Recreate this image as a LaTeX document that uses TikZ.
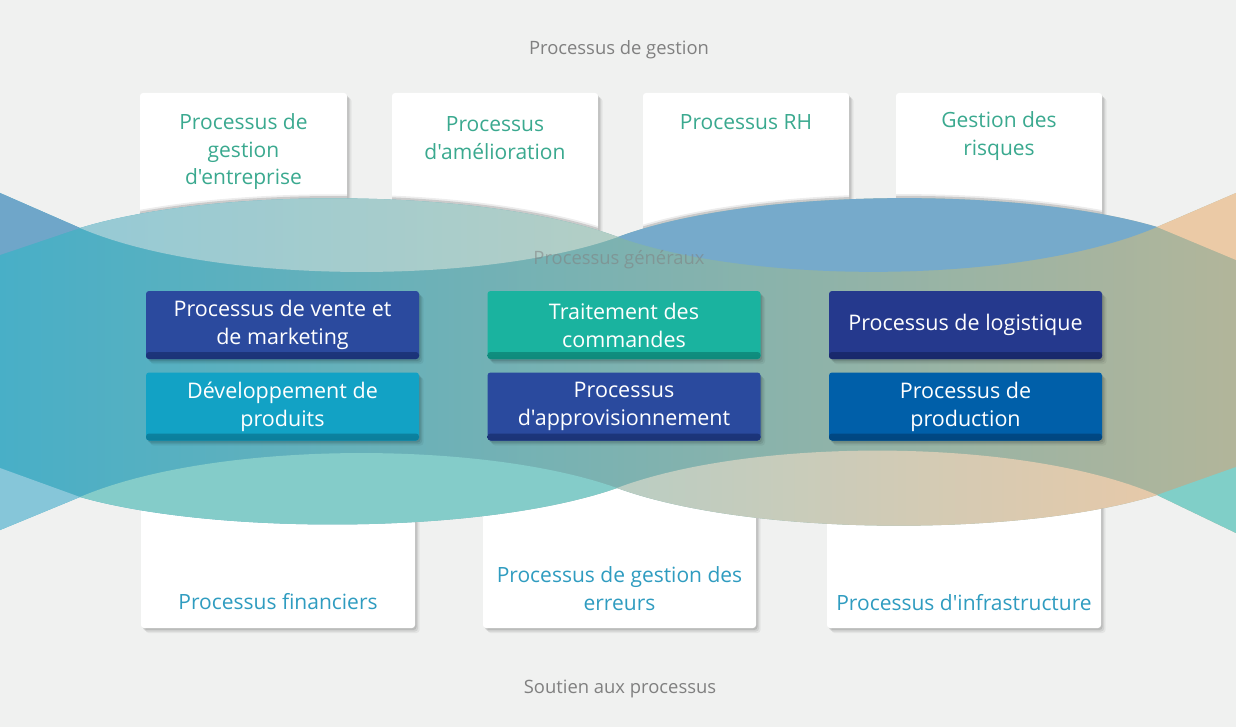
\documentclass[tikz,border=0pt]{standalone}
\usepackage{fontspec}
\setmainfont{Open Sans}[Ligatures=TeXOff]
\usetikzlibrary{shadows}
\definecolor{bg}{HTML}{F0F1F0}
\definecolor{labgray}{HTML}{808080}
\definecolor{topteal}{HTML}{3AA98F}
\definecolor{botblue}{HTML}{2F9CC0}
\definecolor{midL}{HTML}{48AFC7}
\definecolor{midM}{HTML}{78B0B3}
\definecolor{midR}{HTML}{B2B59A}
\definecolor{tzero}{HTML}{6FA6C9}
\definecolor{toneL}{HTML}{96CAD5}
\definecolor{toneR}{HTML}{B3CEC5}
\definecolor{ttwo}{HTML}{76AACB}
\definecolor{tthree}{HTML}{EBCAA6}
\definecolor{bzero}{HTML}{86C6D9}
\definecolor{bone}{HTML}{84CCC9}
\definecolor{btwoL}{HTML}{BACDC3}
\definecolor{btwoR}{HTML}{E6C9A9}
\definecolor{bthree}{HTML}{80CFC8}
\definecolor{bxA}{HTML}{2B4A9E}\definecolor{bxAd}{HTML}{1B3377}
\definecolor{bxB}{HTML}{1AB39F}\definecolor{bxBd}{HTML}{0E8A7B}
\definecolor{bxC}{HTML}{25398D}\definecolor{bxCd}{HTML}{18286A}
\definecolor{bxD}{HTML}{12A2C5}\definecolor{bxDd}{HTML}{0B7E9B}
\definecolor{bxE}{HTML}{2A4A9E}\definecolor{bxEd}{HTML}{1B3377}
\definecolor{bxF}{HTML}{005FA9}\definecolor{bxFd}{HTML}{004680}
\begin{document}
\begin{tikzpicture}[x=1pt,y=-1pt,
  softshadow/.style={
    drop shadow={shadow xshift=1.5pt,shadow yshift=-2pt,opacity=0.10,fill=black},
    drop shadow={shadow xshift=3pt,shadow yshift=-3.5pt,opacity=0.08,fill=black},
    drop shadow={shadow xshift=4.5pt,shadow yshift=-5pt,opacity=0.05,fill=black}},
  card/.style={rectangle,fill=white,rounded corners=3pt,inner sep=0pt,softshadow},
  procbox/.style 2 args={rectangle,rounded corners=3pt,inner sep=0pt,
    minimum width=273pt,minimum height=68pt,fill=#1,text=white,align=center,
    font=\fontsize{21.5}{28}\selectfont,softshadow,
    path picture={\shade[top color=#1,bottom color=#2]
      ([yshift=7pt]path picture bounding box.south west) rectangle
      (path picture bounding box.south east);}},
  toptext/.style={text=topteal,align=center,inner sep=0pt,font=\fontsize{21}{27.5}\selectfont},
  bottext/.style={text=botblue,align=center,inner sep=0pt,font=\fontsize{21}{27.5}\selectfont},
  lab/.style={text=labgray,inner sep=0pt,font=\fontsize{18.4}{22}\selectfont}]
\fill[bg] (0,0) rectangle (1236,727);
\useasboundingbox (0,0) rectangle (1236,727);

% top cards
\node[card,minimum width=207pt,minimum height=170pt] (c1) at (243.5,178) {};
\node[card,minimum width=206pt,minimum height=170pt] (c2) at (495,178) {};
\node[card,minimum width=206pt,minimum height=170pt] (c3) at (746,178) {};
\node[card,minimum width=206pt,minimum height=170pt] (c4) at (999,178) {};
\begin{scope}
\clip (140,90) rectangle (347,265) (392,90) rectangle (598,265)
      (643,90) rectangle (849,265) (896,90) rectangle (1102,265);
\draw[black,opacity=0.07,line width=5pt,yshift=1.5pt]
  (80,228) .. controls (214,187) and (483,187) .. (618,237)
  .. controls (753,187) and (1022,187) .. (1157,227);
\draw[black,opacity=0.14,line width=2.5pt,yshift=1pt]
  (80,228) .. controls (214,187) and (483,187) .. (618,237)
  .. controls (753,187) and (1022,187) .. (1157,227);
\end{scope}

% bottom cards
\node[card,minimum width=274pt,minimum height=158pt] (c5) at (278,549) {};
\node[card,minimum width=273pt,minimum height=158pt] (c6) at (619.5,549) {};
\node[card,minimum width=274pt,minimum height=158pt] (c7) at (964,549) {};

% wave band
\shade[left color=midL,middle color=midM,right color=midR]
  (0,193) -- (80,228) .. controls (214,187) and (483,187) .. (618,237)
  .. controls (753,187) and (1022,187) .. (1157,227) -- (1236,193)
  -- (1236,533) -- (1157,495) .. controls (1022,537) and (752,537) .. (617,488)
  .. controls (483,535) and (214,535) .. (80,497) -- (0,530) -- cycle;
% upper lenses
\fill[tzero] (0,193) -- (80,228) -- (0,255) -- cycle;
\shade[left color=toneL,right color=toneR]
  (80,228) .. controls (214,187) and (483,187) .. (618,237)
  .. controls (483,285) and (214,285) .. (80,228) -- cycle;
\fill[ttwo]
  (618,237) .. controls (753,187) and (1022,187) .. (1157,227)
  .. controls (1022,285) and (753,285) .. (618,237) -- cycle;
\fill[tthree] (1157,227) -- (1236,193) -- (1236,260) -- cycle;
% lower lenses
\fill[bzero] (0,468) -- (80,497) -- (0,530) -- cycle;
\fill[bone]
  (80,497) .. controls (214,440) and (483,440) .. (617,488)
  .. controls (483,535) and (214,535) .. (80,497) -- cycle;
\shade[left color=btwoL,right color=btwoR]
  (617,488) .. controls (752,437) and (1022,437) .. (1157,495)
  .. controls (1022,537) and (752,537) .. (617,488) -- cycle;
\fill[bthree] (1157,495) -- (1236,467) -- (1236,533) -- cycle;

\node[lab,text opacity=0.55] (l2) at (619,260) {Processus généraux};

% process boxes
\node[procbox={bxA}{bxAd}] (p1) at (282.5,325) {Processus de vente et\\de marketing};
\node[procbox={bxB}{bxBd}] (p2) at (624,325) {Traitement des\\commandes};
\node[procbox={bxC}{bxCd}] (p3) at (965.5,325) {Processus de logistique};
\node[procbox={bxD}{bxDd}] (p4) at (282.5,406.5) {Développement de\\produits};
\node[procbox={bxE}{bxEd}] (p5) at (624,406.5) {Processus\\d'approvisionnement};
\node[procbox={bxF}{bxFd}] (p6) at (965.5,406.5) {Processus de\\production};

% card texts
\node[toptext] (t1) at (243.5,152) {Processus de\\gestion\\d'entreprise};
\node[toptext] (t2) at (495,138) {Processus\\d'amélioration};
\node[toptext] (t3) at (746,122) {Processus RH};
\node[toptext] (t4) at (999,136) {Gestion des\\risques};
\node[bottext] (t5) at (278,602) {Processus financiers};
\node[bottext] (t6) at (619.5,588.5) {Processus de gestion des\\erreurs};
\node[bottext] (t7) at (964,603) {Processus d'infrastructure};

% section labels
\node[lab] (l1) at (619,50) {Processus de gestion};
\node[lab] (l3) at (620,689) {Soutien aux processus};
\end{tikzpicture}
\end{document}
